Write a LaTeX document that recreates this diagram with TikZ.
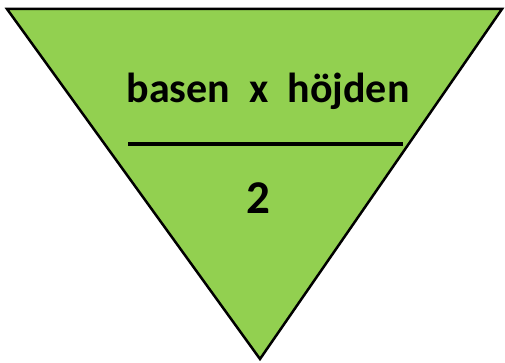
\documentclass[tikz,border=0pt]{standalone}
\usepackage{fontspec}
\setmainfont{Carlito}
\definecolor{tri}{HTML}{92D050}
\begin{document}
\begin{tikzpicture}[x=1pt,y=-1pt,
  lbl/.style={font=\fontsize{42}{50}\selectfont\bfseries, inner sep=0pt, anchor=base},
  tribox/.style={fill=tri, draw=black, line width=2.5pt, line join=miter}]
\useasboundingbox (0,0) rectangle (505,363);
\coordinate (tl) at (7,9);
\coordinate (tr) at (502,9);
\coordinate (bt) at (260,359);
\draw[tribox] (tl) -- (tr) -- (bt) -- cycle;
\node[lbl] (num) at (268,103) {basen\ \ x\ \ höjden};
\coordinate (l1) at (128,144);
\coordinate (l2) at (403,144);
\draw[line width=3.2pt] (l1) -- (l2);
\node[lbl, font=\fontsize{47}{56}\selectfont\bfseries] (den) at (258,213) {2};
\end{tikzpicture}
\end{document}
